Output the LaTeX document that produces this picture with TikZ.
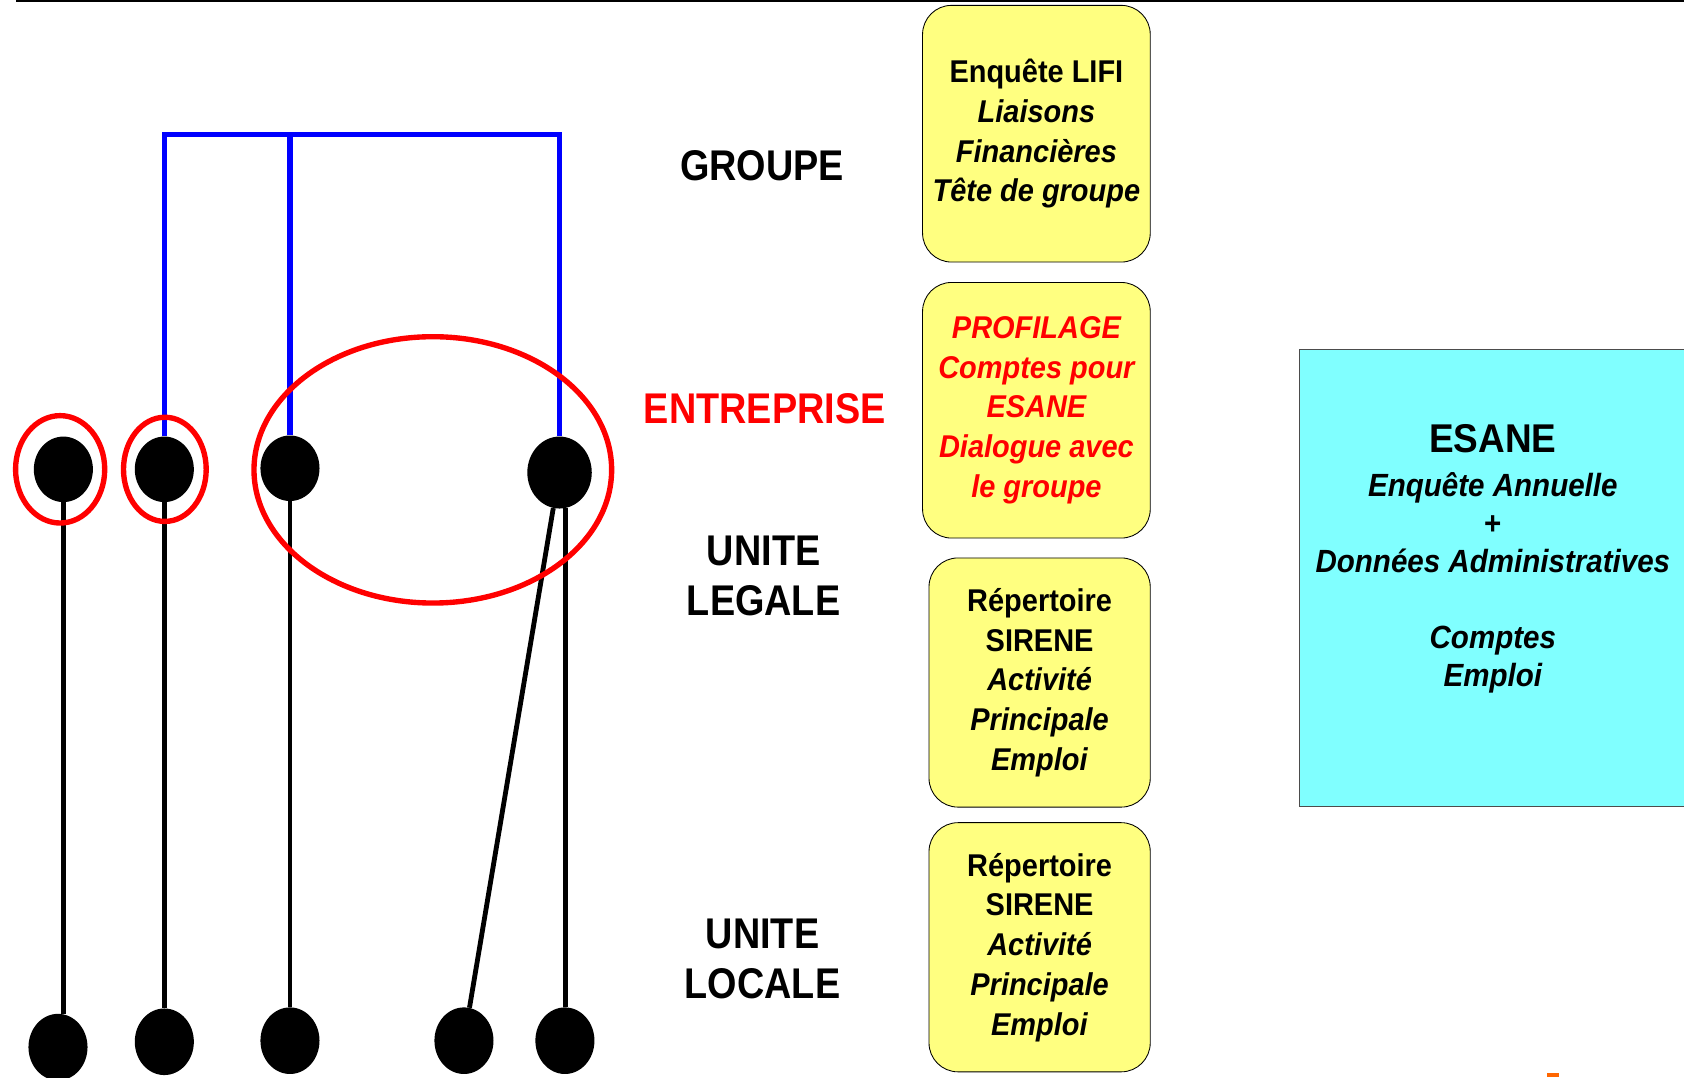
\documentclass[tikz,border=0pt]{standalone}
\usepackage{fontspec}
\usetikzlibrary{shapes.geometric}
\setmainfont[FakeStretch=0.92]{Liberation Sans}
\newfontfamily\levelfont[FakeStretch=0.88]{Liberation Sans}
\definecolor{boxYellow}{HTML}{FFFF80}
\definecolor{boxCyan}{HTML}{80FFFF}
\definecolor{markOrange}{HTML}{FF6600}

\begin{document}
\begin{tikzpicture}[x=1pt, y=-1pt,
    dot/.style={ellipse, fill=black, inner sep=0pt, minimum width=55pt, minimum height=61pt},
    ring/.style={ellipse, draw=red, line width=5pt, inner sep=0pt},
    link/.style={line width=4.5pt},
    tie/.style={blue, line width=5pt},
    level/.style={font=\levelfont\bfseries\fontsize{40}{47}\selectfont, inner sep=0pt, align=center},
    source/.style={draw, fill=boxYellow, rounded corners=27pt, line width=0.8pt, inner sep=0pt, align=center, font=\bfseries\fontsize{29.3}{37}\selectfont}]
    \useasboundingbox (0,0) rectangle (1568,1003);
    \draw[line width=1.5pt] (15,1) -- (1568,1);

    \coordinate (gA) at (153,125);
    \coordinate (gB) at (521,125);

    \node[dot] (uA) at (59,437) {};
    \node[dot] (uB) at (153,437) {};
    \node[dot] (uC) at (270,436) {};
    \node[dot, minimum width=60pt, minimum height=67pt] (uD) at (521,440) {};

    \node[dot, minimum height=62pt] (lA) at (54,975) {};
    \node[dot, minimum height=62pt] (lB) at (153,970) {};
    \node[dot, minimum height=62pt] (lC) at (270,969) {};
    \node[dot, minimum height=62pt] (lD) at (432,969) {};
    \node[dot, minimum height=62pt] (lE) at (526,969) {};

    \draw[tie] (uB) -- (gA) -- (gB) -- (uD);
    \draw[tie] (uC) -- (uC |- gA);

    \draw[link] (uA) -- (uA |- lA.north);
    \draw[link] (uB) -- (lB);
    \draw[link] (uC) -- (lC);
    \draw[link] (uD.-100) -- (lD);
    \draw[link] (uD.-80) -- (uD.-80 |- lE.north);

    \node[ring, minimum width=83pt, minimum height=100pt] (rA) at (56,437) {};
    \node[ring, minimum width=77pt, minimum height=97pt] (rB) at (153.5,437) {};
    \node[ring, minimum width=333pt, minimum height=248pt] (rC) at (403,437.5) {};

    \node[level, anchor=base] (tGroupe) at (709.5,168) {GROUPE};
    \node[level, anchor=base, text=red] (tEntreprise) at (712,394) {ENTREPRISE};
    \node[level, anchor=north] (tLegale) at (711,498.4) {UNITE\\LEGALE};
    \node[level, anchor=north] (tLocale) at (710,855.4) {UNITE\\LOCALE};

    \node[source, minimum width=212pt, minimum height=239pt] (sLifi) at (965,124.5) {Enquête LIFI\\\textit{Liaisons}\\\textit{Financières}\\\textit{Tête de groupe}};
    \node[source, minimum width=212pt, minimum height=238pt, text=red, font=\bfseries\itshape\fontsize{29.3}{37}\selectfont] (sProfil) at (965,382) {PROFILAGE\\Comptes pour\\ESANE\\Dialogue avec\\le groupe};
    \node[source, minimum width=206pt, minimum height=232pt] (sLegale) at (968,635.5) {Répertoire\\SIRENE\\\textit{Activité}\\\textit{Principale}\\\textit{Emploi}};
    \node[source, minimum width=206pt, minimum height=232pt] (sLocale) at (968,882) {Répertoire\\SIRENE\\\textit{Activité}\\\textit{Principale}\\\textit{Emploi}};

    \node[draw=black!70, fill=boxCyan, line width=0.8pt, minimum width=420pt, minimum height=426pt] (esane) at (1419.5,538) {};
    \node[anchor=north, inner sep=0pt, align=center, font=\bfseries\itshape\fontsize{29.9}{35.5}\selectfont] (esaneText) at (1390,394.6) {\textup{\fontsize{37.4}{41}\selectfont ESANE}\\[5.5pt]Enquête Annuelle\\\textup{+}\\Données Administratives\\[35.5pt]Comptes\\Emploi};

    \fill[markOrange] (1440,998.7) rectangle (1451.5,1003);
\end{tikzpicture}
\end{document}
